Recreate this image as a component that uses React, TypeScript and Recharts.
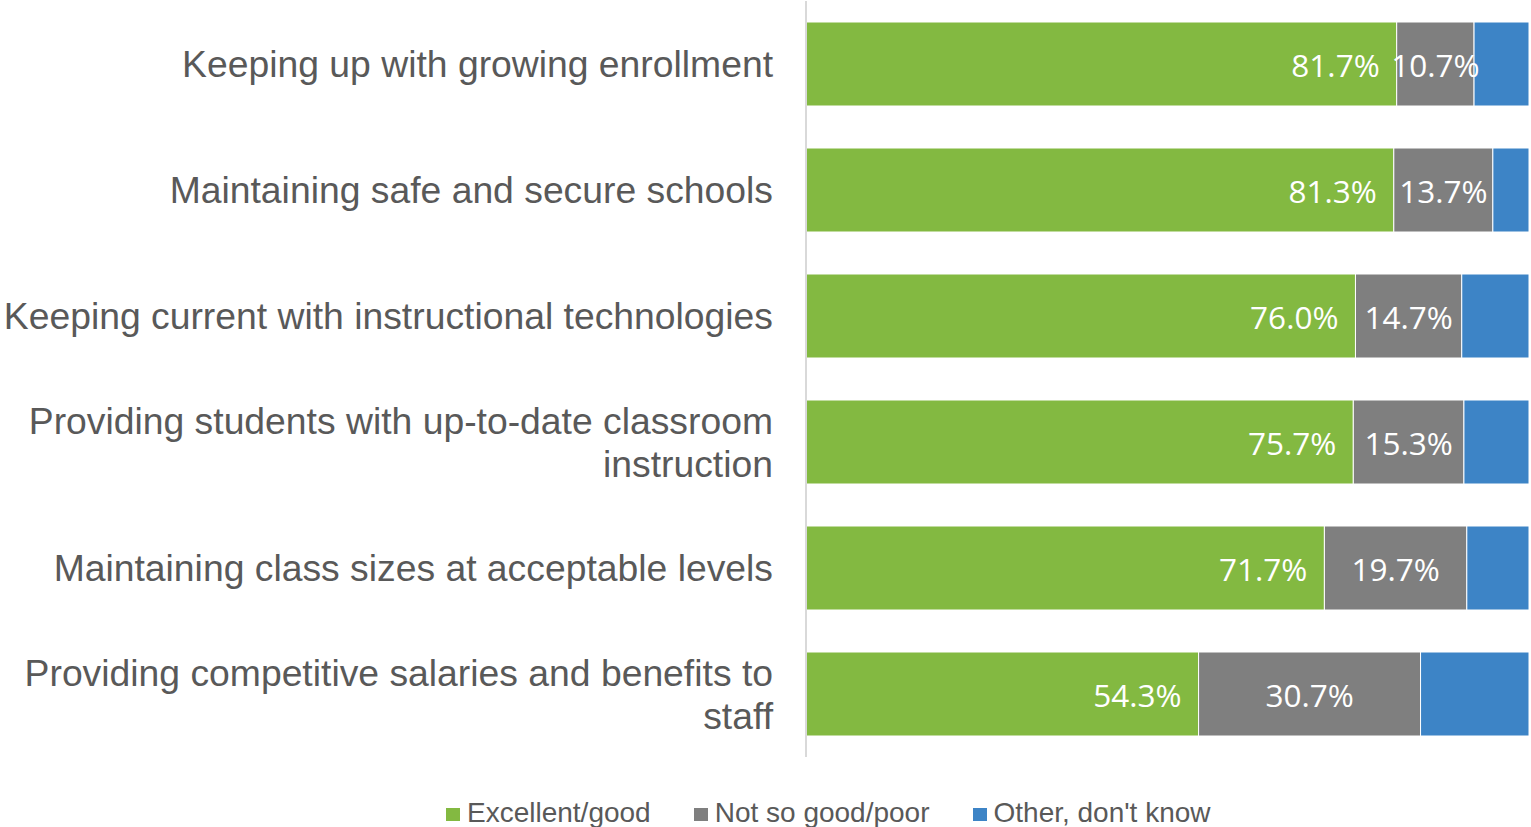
import React from 'react';
import { BarChart, Bar, XAxis, YAxis, LabelList } from 'recharts';

const categories = [
  'Keeping up with growing enrollment',
  'Maintaining safe and secure schools',
  'Keeping current with instructional technologies',
  'Providing students with up-to-date classroom instruction',
  'Maintaining class sizes at acceptable levels',
  'Providing competitive salaries and benefits to staff',
];
const goodValues = [81.7, 81.3, 76.0, 75.7, 71.7, 54.3];
const poorValues = [10.7, 13.7, 14.7, 15.3, 19.7, 30.7];
const otherValues = [7.6, 5.0, 9.3, 9.0, 8.6, 15.0];

const seriesNames = ['Excellent/good', 'Not so good/poor', "Other, don't know"];
const colors = ['#83B941', '#7F7F7F', '#3D84C6'];

const data = categories.map((name, i) => ({
  name,
  good: goodValues[i],
  poor: poorValues[i],
  other: otherValues[i],
}));

const FONT = '"Liberation Sans", Arial, sans-serif';
const TICK_SIZE = 37.3;
const MAX_LINE = 800;

let ctx: CanvasRenderingContext2D | null = null;
const measure = (s: string) => {
  if (!ctx) {
    ctx = document.createElement('canvas').getContext('2d');
  }
  if (!ctx) return s.length * TICK_SIZE * 0.5;
  ctx.font = `${TICK_SIZE}px ${FONT}`;
  return ctx.measureText(s).width;
};

// break long category names into lines that fit left of the axis
const wrap = (s: string) => {
  const words = s.split(' ');
  const lines: string[] = [];
  let cur = '';
  words.forEach((w) => {
    const next = cur ? cur + ' ' + w : w;
    if (cur && measure(next) > MAX_LINE) {
      lines.push(cur);
      cur = w;
    } else {
      cur = next;
    }
  });
  if (cur) lines.push(cur);
  return lines;
};

const CategoryTick = (props: any) => {
  const { x, y, payload } = props;
  const lines = wrap(String(payload.value));
  const lh = 43;
  const start = -((lines.length - 1) * lh) / 2;
  return (
    <text x={x} y={y} textAnchor="end" fill="#595959" fontSize={TICK_SIZE} fontFamily={FONT}>
      {lines.map((l, i) => (
        <tspan key={i} x={x} dy={i === 0 ? start + TICK_SIZE * 0.35 : lh}>
          {l}
        </tspan>
      ))}
    </text>
  );
};

const fmt = (v: any) => `${Number(v).toFixed(1)}%`;
const dataLabelStyle = { fontSize: 31.5, fontFamily: '"Open Sans", sans-serif' };

const App = () => {
  return (
    <div style={{ position: 'fixed', left: 0, top: 0, width: 1531, height: 827, overflow: 'hidden', background: '#fff' }}>
      <BarChart
        width={1531}
        height={827}
        data={data}
        layout="vertical"
        margin={{ top: 1, right: 2, bottom: 70, left: 0 }}
        barSize={84}
      >
        <XAxis type="number" domain={[0, 100]} hide />
        <YAxis
          type="category"
          dataKey="name"
          width={806}
          tickSize={0}
          tickMargin={33}
          axisLine={{ stroke: '#D9D9D9', strokeWidth: 2 }}
          tickLine={false}
          tick={<CategoryTick />}
          interval={0}
        />
        <Bar dataKey="good" stackId="a" fill={colors[0]} stroke="#fff" strokeWidth={1} isAnimationActive={false}>
          <LabelList dataKey="good" position="insideRight" offset={17} formatter={fmt} fill="#fff" style={dataLabelStyle} dy={2} />
        </Bar>
        <Bar dataKey="poor" stackId="a" fill={colors[1]} stroke="#fff" strokeWidth={1} isAnimationActive={false}>
          <LabelList dataKey="poor" position="center" formatter={fmt} fill="#fff" style={dataLabelStyle} dy={2} />
        </Bar>
        <Bar dataKey="other" stackId="a" fill={colors[2]} stroke="#fff" strokeWidth={1} isAnimationActive={false} />
      </BarChart>
      <div
        style={{
          position: 'absolute',
          left: 446,
          top: 797,
          display: 'flex',
          gap: 43,
          fontFamily: FONT,
          fontSize: 28,
          color: '#595959',
          lineHeight: '32px',
          whiteSpace: 'nowrap',
        }}
      >
        {seriesNames.map((n, i) => (
          <div key={n} style={{ display: 'flex', alignItems: 'center' }}>
            <span style={{ display: 'inline-block', width: 14, height: 13, background: colors[i], marginRight: 7, marginTop: 3 }} />
            <span>{n}</span>
          </div>
        ))}
      </div>
    </div>
  );
};

export default App;
